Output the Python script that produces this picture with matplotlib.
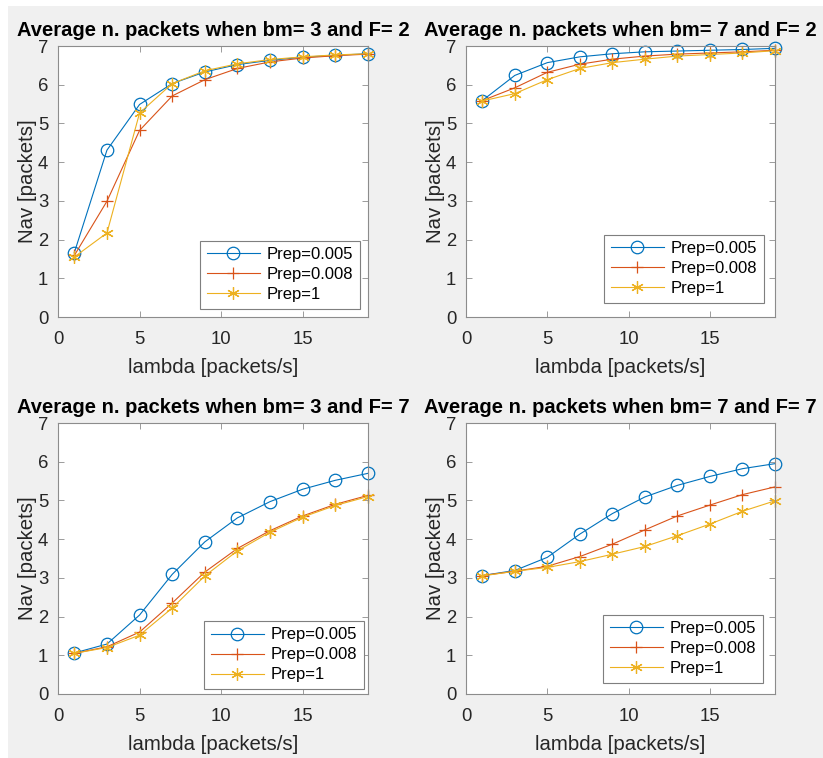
import matplotlib
matplotlib.use('Agg')
import matplotlib.pyplot as plt
from matplotlib.patches import Rectangle

plt.rcParams['font.family'] = ['Liberation Sans', 'DejaVu Sans']

# arrival rate values (x axis)
lam = [1, 3, 5, 7, 9, 11, 13, 15, 17, 19]
labels = ['Prep=0.005', 'Prep=0.008', 'Prep=1']

# bm=3, F=2
nav_b3_f2_p005 = [1.66, 4.31, 5.49, 6.03, 6.33, 6.52, 6.63, 6.71, 6.76, 6.80]
nav_b3_f2_p008 = [1.59, 2.99, 4.82, 5.71, 6.13, 6.42, 6.59, 6.69, 6.75, 6.79]
nav_b3_f2_p1 = [1.55, 2.17, 5.27, 6.03, 6.36, 6.54, 6.65, 6.72, 6.77, 6.80]

# bm=7, F=2
nav_b7_f2_p005 = [5.59, 6.24, 6.57, 6.72, 6.80, 6.85, 6.87, 6.89, 6.91, 6.94]
nav_b7_f2_p008 = [5.59, 5.92, 6.32, 6.53, 6.66, 6.74, 6.79, 6.82, 6.85, 6.89]
nav_b7_f2_p1 = [5.58, 5.77, 6.13, 6.42, 6.57, 6.66, 6.74, 6.78, 6.82, 6.88]

# bm=3, F=7
nav_b3_f7_p005 = [1.06, 1.29, 2.04, 3.09, 3.93, 4.55, 4.97, 5.29, 5.52, 5.70]
nav_b3_f7_p008 = [1.05, 1.22, 1.60, 2.35, 3.15, 3.76, 4.22, 4.60, 4.90, 5.13]
nav_b3_f7_p1 = [1.05, 1.20, 1.52, 2.22, 3.05, 3.70, 4.18, 4.57, 4.87, 5.10]

# bm=7, F=7
nav_b7_f7_p005 = [3.06, 3.19, 3.53, 4.13, 4.66, 5.09, 5.39, 5.62, 5.82, 5.95]
nav_b7_f7_p008 = [3.06, 3.17, 3.30, 3.55, 3.87, 4.24, 4.60, 4.88, 5.15, 5.35]
nav_b7_f7_p1 = [3.05, 3.17, 3.27, 3.42, 3.61, 3.81, 4.09, 4.39, 4.72, 4.99]

panels = [
    ('Average n. packets when bm= 3 and F= 2', [nav_b3_f2_p005, nav_b3_f2_p008, nav_b3_f2_p1]),
    ('Average n. packets when bm= 7 and F= 2', [nav_b7_f2_p005, nav_b7_f2_p008, nav_b7_f2_p1]),
    ('Average n. packets when bm= 3 and F= 7', [nav_b3_f7_p005, nav_b3_f7_p008, nav_b3_f7_p1]),
    ('Average n. packets when bm= 7 and F= 7', [nav_b7_f7_p005, nav_b7_f7_p008, nav_b7_f7_p1]),
]

colors = ['#0072BD', '#D95319', '#EDB120']
markers = ['o', '+', (6, 2, 0)]  # last one = matlab style asterisk

W, H = 823, 758
fig = plt.figure(figsize=(W / 100, H / 100), dpi=100, facecolor='white')
# matlab window grey, screenshot leaves thin white strip top/left
fig.patches.append(Rectangle((8 / W, 0), 1, 1 - 6 / H, transform=fig.transFigure,
                             facecolor='#f0f0f0', edgecolor='none', zorder=-10))

lefts = [58, 466, 58, 466]
tops = [46, 46, 423, 423]
widths = [310, 309, 310, 309]
axh = 271
legend_anchor = [(0.974, 0.03), (0.964, 0.052), (0.987, 0.018), (0.961, 0.041)]

for i, (title, series) in enumerate(panels):
    ax = fig.add_axes([lefts[i] / W, 1 - (tops[i] + axh) / H, widths[i] / W, axh / H])
    for ys, c, m, lab in zip(series, colors, markers, labels):
        ax.plot(lam, ys, color=c, marker=m, markersize=9, markerfacecolor='none',
                markeredgewidth=0.9, linewidth=0.8, label=lab, clip_on=False)
    ax.set_xlim(0, 19)
    ax.set_ylim(0, 7)
    ax.set_xticks([0, 5, 10, 15])
    ax.set_yticks(range(0, 8))
    ax.tick_params(direction='in', top=True, right=True, length=4, width=0.6,
                   labelsize=13.3, colors='#8c8c8c', labelcolor='#262626')
    ax.tick_params(axis='x', pad=10)
    ax.tick_params(axis='y', pad=7)
    for s in ax.spines.values():
        s.set_color('#8c8c8c')
        s.set_linewidth(0.8)
    ax.set_xlabel('lambda [packets/s]', fontsize=14.7, color='#262626', labelpad=7)
    ax.set_ylabel('Nav [packets]', fontsize=14.7, color='#262626', labelpad=1)
    ax.set_title(title, fontsize=14.5, fontweight='bold', color='black', pad=7)
    leg = ax.legend(loc='lower right', bbox_to_anchor=legend_anchor[i], borderaxespad=0,
                    fontsize=12, fancybox=False, framealpha=1, edgecolor='#7f7f7f',
                    handlelength=3.2, handletextpad=0.4, labelspacing=0.3, borderpad=0.4)
    leg.get_frame().set_linewidth(0.8)

fig.savefig('out.png', dpi=100, facecolor=fig.get_facecolor())
